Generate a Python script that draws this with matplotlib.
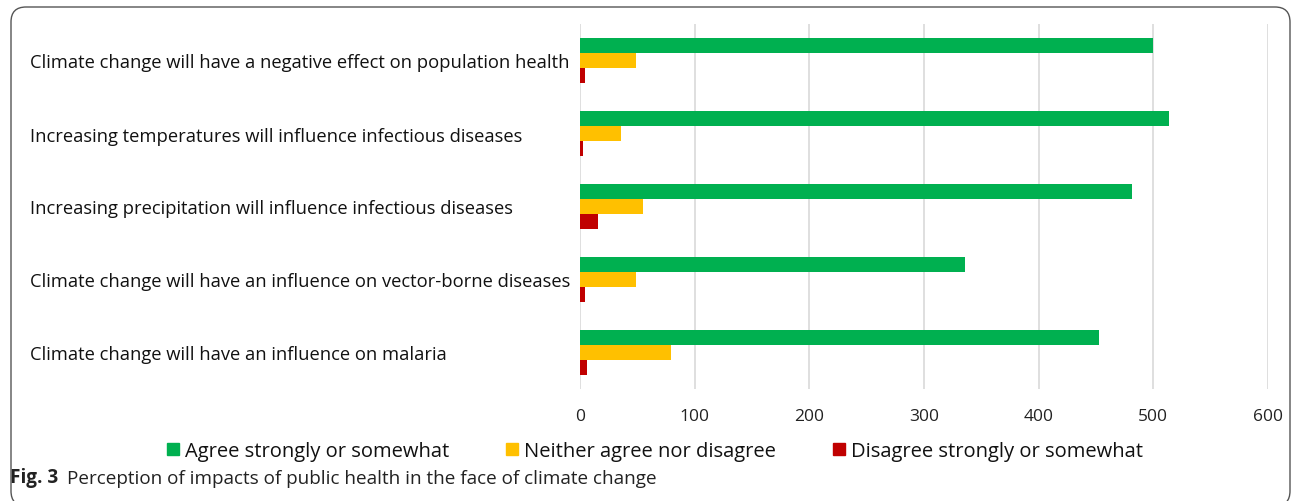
import numpy as np
import matplotlib
matplotlib.use('Agg')
from matplotlib import pyplot as plt
from matplotlib.patches import FancyBboxPatch
from matplotlib.lines import Line2D

statements = ['Climate change will have a negative effect on population health',
              'Increasing temperatures will influence infectious diseases',
              'Increasing precipitation will influence infectious diseases',
              'Climate change will have an influence on vector-borne diseases',
              'Climate change will have an influence on malaria']
agree = [500, 514, 481, 336, 453]
neither = [49, 36, 55, 49, 79]
disagree = [4, 3, 16, 4, 6]
series_names = ['Agree strongly or somewhat', 'Neither agree nor disagree',
                'Disagree strongly or somewhat']
colors = ['#00B050', '#FFC000', '#C00000']

plt.rcParams['font.family'] = ['Open Sans', 'DejaVu Sans']

fig = plt.figure(figsize=(12.93, 5.02), dpi=100)
ax = fig.add_axes([580/1293, 1 - 390/502, 688/1293, 365/502])

y = np.arange(len(statements))
h = 0.21
for i, (vals, c) in enumerate(zip([agree, neither, disagree], colors)):
    ax.barh(y + (i - 1) * h, vals, height=h, color=c, zorder=3)

ax.set_xlim(0, 600)
ax.set_xticks(range(0, 601, 100))
ax.set_ylim(4.5, -0.5)
ax.set_yticks(y)
ax.set_yticklabels(statements, fontsize=13.2, color='#111111')
for lab in ax.get_yticklabels():
    lab.set_horizontalalignment('left')
ax.tick_params(axis='y', length=0, pad=396)
ax.tick_params(axis='x', length=0, pad=14, labelsize=12.5, labelcolor='#222222')
ax.grid(axis='x', color='#D9D9D9', linewidth=1.2, zorder=0)
for s in ax.spines.values():
    s.set_visible(False)

# legend below the axis, square markers like excel
handles = [Line2D([], [], marker='s', linestyle='none', markersize=9,
                  markerfacecolor=c, markeredgecolor=c) for c in colors]
fig.legend(handles, series_names, loc='center', bbox_to_anchor=(653/1293, 1 - 452/502),
           ncol=3, frameon=False, fontsize=14.5, handletextpad=0.1, columnspacing=2.6,
           handlelength=1.0, labelcolor='#111111')

t = fig.text(10/1293, 1 - 478/502, 'Fig. 3', fontsize=13.6, fontweight='bold',
             va='center', color='#222222')
ax.annotate('Perception of impacts of public health in the face of climate change',
            xy=(1, 0), xycoords=t, xytext=(6, 0), textcoords='offset points',
            fontsize=13.6, va='bottom', color='#222222')

frame = FancyBboxPatch((0.11, -0.05), 12.79, 5.02 - 0.08 + 0.05,
                       boxstyle='round,pad=0,rounding_size=0.15',
                       transform=fig.dpi_scale_trans, fill=False,
                       edgecolor='#555555', linewidth=1.0)
fig.patches.append(frame)

fig.savefig('out.png', dpi=100)
